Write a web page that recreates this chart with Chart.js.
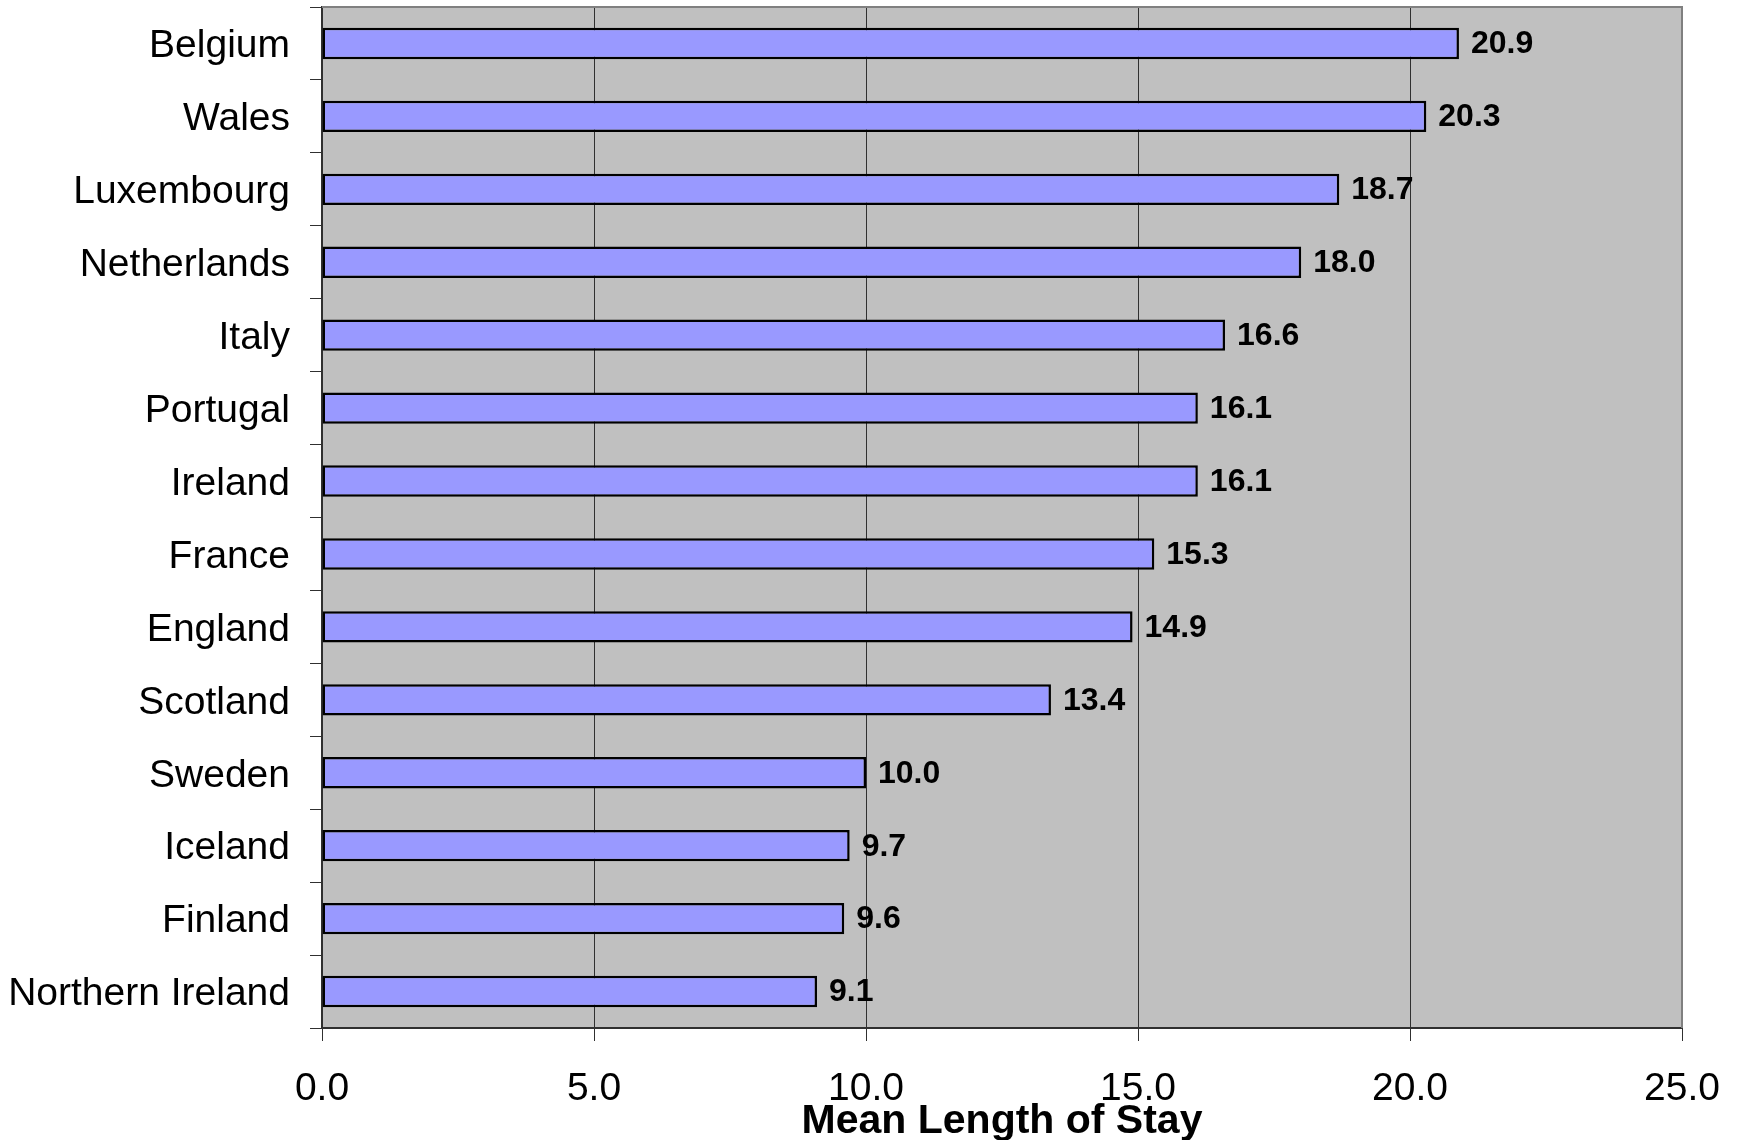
<!DOCTYPE html>
<html>
<head>
<meta charset="utf-8">
<script src="https://cdn.jsdelivr.net/npm/chart.js@4"></script>
<style>
    body { margin: 0; background: #fff; }
    #wrap { width: 1737px; height: 1140px; }
</style>
</head>
<body>
<div id="wrap"><canvas id="myChart" width="1737" height="1140"></canvas></div>
<script>
const countries = ['Belgium', 'Wales', 'Luxembourg', 'Netherlands', 'Italy', 'Portugal', 'Ireland',
    'France', 'England', 'Scotland', 'Sweden', 'Iceland', 'Finland', 'Northern Ireland'];
const stayValues = [20.9, 20.3, 18.7, 18.0, 16.6, 16.1, 16.1, 15.3, 14.9, 13.4, 10.0, 9.7, 9.6, 9.1];
const xTicks = [0, 5, 10, 15, 20, 25];
const axisTitle = 'Mean Length of Stay';

const fontFamily = "'Liberation Sans', Arial, sans-serif";

// grey plot area + its outline
let plotBackground = {
    id: 'plotBackground',
    beforeDraw(chart) {
        let { ctx, chartArea } = chart;
        ctx.save();
        ctx.fillStyle = '#C0C0C0';
        ctx.fillRect(chartArea.left, chartArea.top, chartArea.right - chartArea.left, chartArea.bottom - chartArea.top);
        ctx.restore();
    },
    beforeDatasetsDraw(chart) {
        let { ctx, chartArea } = chart;
        ctx.save();
        ctx.strokeStyle = '#808080';
        ctx.lineWidth = 2;
        ctx.beginPath();
        ctx.moveTo(chartArea.left, chartArea.top);
        ctx.lineTo(chartArea.right, chartArea.top);
        ctx.lineTo(chartArea.right, chartArea.bottom);
        ctx.stroke();
        ctx.restore();
    }
};

// value labels to the right of each bar
let valueLabels = {
    id: 'valueLabels',
    afterDatasetsDraw(chart) {
        let { ctx } = chart;
        let meta = chart.getDatasetMeta(0);
        ctx.save();
        ctx.font = 'bold 32px ' + fontFamily;
        ctx.fillStyle = '#000';
        ctx.textAlign = 'left';
        ctx.textBaseline = 'middle';
        meta.data.forEach((bar, i) => {
            ctx.fillText(stayValues[i].toFixed(1), bar.x + 12, bar.y + 1);
        });
        ctx.restore();
    }
};

let ctx = document.getElementById('myChart');

new Chart(ctx, {
    type: 'bar',
    data: {
        labels: countries,
        datasets: [{
            data: stayValues,
            backgroundColor: '#9999FF',
            borderColor: '#000000',
            borderWidth: 2.5,
            borderSkipped: false,
            barPercentage: 0.43,
            categoryPercentage: 1
        }]
    },
    options: {
        indexAxis: 'y',
        responsive: false,
        animation: false,
        events: [],
        layout: {
            padding: { top: 7, right: 55, bottom: 0, left: 0 }
        },
        plugins: {
            legend: { display: false },
            tooltip: { enabled: false }
        },
        scales: {
            x: {
                min: 0,
                max: 25,
                afterBuildTicks(scale) {
                    scale.ticks = xTicks.map(v => ({ value: v }));
                },
                afterFit(scale) {
                    scale.height = 112;
                    scale.paddingLeft = 0;
                    scale.paddingRight = 0;
                },
                ticks: {
                    color: '#000',
                    padding: 25,
                    maxRotation: 0,
                    font: { family: fontFamily, size: 39 },
                    callback: (v) => Number(v).toFixed(1)
                },
                grid: {
                    color: '#303030',
                    lineWidth: 1,
                    tickLength: 13
                },
                border: { color: '#303030', width: 2 },
                title: {
                    display: true,
                    text: axisTitle,
                    color: '#000',
                    font: { family: fontFamily, size: 41, weight: 'bold', lineHeight: 0.9 },
                    padding: { top: 0, bottom: 0 }
                }
            },
            y: {
                afterFit(scale) {
                    scale.width = 322;
                    scale.paddingTop = 0;
                    scale.paddingBottom = 0;
                },
                ticks: {
                    color: '#000',
                    padding: 20,
                    labelOffset: 3,
                    font: { family: fontFamily, size: 39 }
                },
                grid: {
                    offset: true,
                    drawOnChartArea: false,
                    color: '#303030',
                    tickLength: 12
                },
                border: { color: '#303030', width: 2 }
            }
        }
    },
    plugins: [plotBackground, valueLabels]
});
</script>
</body>
</html>
